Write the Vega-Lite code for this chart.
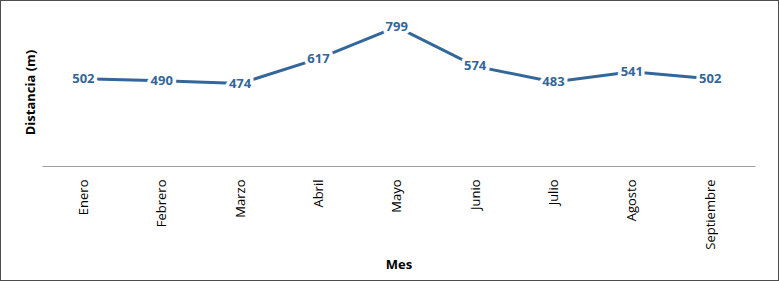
{
  "$schema": "https://vega.github.io/schema/vega-lite/v6.json",
  "width": 779,
  "height": 281,
  "autosize": "none",
  "padding": 0,
  "background": "white",
  "config": {
    "view": {"stroke": "#4d4d4d", "strokeWidth": 2},
    "font": "Open Sans"
  },
  "data": {
    "values": [
      {"mes": "Enero", "distancia": 502},
      {"mes": "Febrero", "distancia": 490},
      {"mes": "Marzo", "distancia": 474},
      {"mes": "Abril", "distancia": 617},
      {"mes": "Mayo", "distancia": 799},
      {"mes": "Junio", "distancia": 574},
      {"mes": "Julio", "distancia": 483},
      {"mes": "Agosto", "distancia": 541},
      {"mes": "Septiembre", "distancia": 502}
    ]
  },
  "encoding": {
    "x": {
      "field": "mes",
      "type": "nominal",
      "sort": null,
      "scale": {"type": "point", "range": [42, 755], "padding": 0.55, "align": 0.48},
      "axis": {
        "title": "Mes",
        "offset": -115,
        "domainColor": "#a0a0a0",
        "domainWidth": 1,
        "ticks": false,
        "grid": false,
        "labelAngle": -90,
        "labelPadding": 13,
        "labelFontSize": 13,
        "labelColor": "#000000",
        "labelFont": "Open Sans",
        "titleFont": "Open Sans",
        "titleFontSize": 13,
        "titleFontWeight": "bold",
        "titleColor": "#000000",
        "titleY": 98,
        "titleBaseline": "middle"
      }
    },
    "y": {
      "field": "distancia",
      "type": "quantitative",
      "scale": {"domain": [0, 954], "range": [166, 0], "nice": false, "zero": true},
      "axis": {
        "title": "Distancia (m)",
        "domain": false,
        "ticks": false,
        "labels": false,
        "grid": false,
        "titleFont": "Open Sans",
        "titleFontSize": 13,
        "titleFontWeight": "bold",
        "titleColor": "#000000",
        "titleX": 30,
        "titleY": 92,
        "titleAngle": -90,
        "titleAlign": "center",
        "titleBaseline": "middle"
      }
    }
  },
  "layer": [
    {"mark": {"type": "line", "color": "#336699", "strokeWidth": 3}},
    {
      "mark": {"type": "text", "stroke": "white", "strokeWidth": 7, "strokeJoin": "round", "fill": "white", "fontWeight": "bold", "fontSize": 13, "font": "Open Sans", "baseline": "middle", "align": "center"},
      "encoding": {"text": {"field": "distancia", "type": "quantitative"}}
    },
    {
      "mark": {"type": "text", "color": "#336699", "fontWeight": "bold", "fontSize": 13, "font": "Open Sans", "baseline": "middle", "align": "center"},
      "encoding": {"text": {"field": "distancia", "type": "quantitative"}}
    }
  ]
}
